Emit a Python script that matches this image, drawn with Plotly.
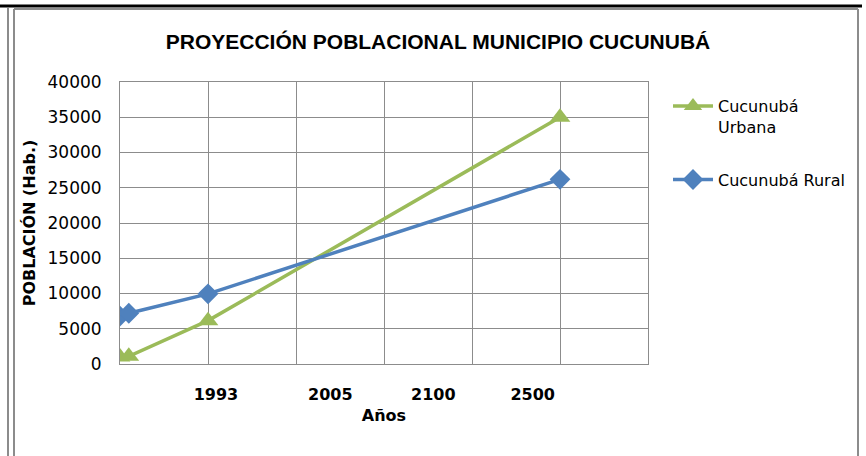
import plotly.graph_objects as go

# data
x_pos = [0, 0.1, 1, 5]
urbana = [1000, 1100, 6150, 35000]
rural = [6800, 7200, 9950, 26200]

# x tick labels (placed where they sit in the original)
tick_pos = [1.09, 2.39, 3.56, 4.69]
tick_txt = ['1993', '2005', '2100', '2500']

GREEN = '#9BBB59'
BLUE = '#4F81BD'
GRID = '#8C8C8C'

W, H = 866, 456
L, R, T, B = 120, 648, 82, 364


def px(x):
    return (x - L) / (R - L)


def py(y):
    return (B - y) / (B - T)


fig = go.Figure()
fig.add_trace(go.Scatter(
    x=x_pos, y=urbana, name='Cucunubá<br>Urbana', mode='lines+markers',
    line=dict(color=GREEN, width=3.5),
    marker=dict(symbol='triangle-up', size=18, color=GREEN),
    legendgroup='u'))
fig.add_trace(go.Scatter(
    x=x_pos, y=rural, name='Cucunubá Rural', mode='lines+markers',
    line=dict(color=BLUE, width=3.5),
    marker=dict(symbol='diamond', size=16, color=BLUE),
    legendgroup='r'))

frame = [
    dict(x0=px(0), x1=px(862), y0=py(6), y1=py(6), color='black', width=3),
    dict(x0=px(8), x1=px(8), y0=py(8), y1=py(456), color='#8C8C8C', width=2),
    dict(x0=px(14), x1=px(14), y0=py(9), y1=py(456), color='#8C8C8C', width=2),
    dict(x0=px(14), x1=px(858), y0=py(9), y1=py(9), color='#8C8C8C', width=2),
    dict(x0=px(858), x1=px(858), y0=py(9), y1=py(456), color='#8C8C8C', width=2),
]
shapes = [dict(type='line', xref='paper', yref='paper', x0=f['x0'], x1=f['x1'],
               y0=f['y0'], y1=f['y1'], line=dict(color=f['color'], width=f['width']))
          for f in frame]

fig.update_layout(
    width=W, height=H,
    margin=dict(l=L, r=W - R, t=T, b=H - B, autoexpand=False),
    paper_bgcolor='white', plot_bgcolor='white',
    font=dict(family='DejaVu Sans', color='black'),
    title=dict(text='<b>PROYECCIÓN POBLACIONAL MUNICIPIO CUCUNUBÁ</b>',
               x=px(438), xref='paper', xanchor='center',
               y=1 - 42 / H, yanchor='middle',
               font=dict(family='Liberation Sans', size=21)),
    xaxis=dict(range=[0, 6], tickvals=tick_pos, ticktext=tick_txt, ticks='',
               showgrid=False, zeroline=False,
               showline=True, mirror=True, linecolor=GRID, linewidth=1,
               tickfont=dict(size=16, family='DejaVu Sans', weight='bold'),
               ticklabelstandoff=16,
               minor=dict(dtick=1, tick0=0, showgrid=True, gridcolor=GRID, gridwidth=1),
               title=dict(text='<b>Años</b>', font=dict(size=16), standoff=6)),
    yaxis=dict(range=[0, 40000], dtick=5000, tickformat='d',
               showgrid=True, gridcolor=GRID, gridwidth=1,
               zeroline=False, showline=True, mirror=True, linecolor=GRID, linewidth=1,
               ticks='', tickfont=dict(size=17), ticklabelstandoff=14,
               title=dict(text='<b>POBLACIÓN (Hab.)</b>', font=dict(size=16), standoff=7)),
    legend=dict(x=px(668), y=py(89), xanchor='left', yanchor='top',
                font=dict(size=16), valign='top', tracegroupgap=29,
                traceorder='grouped', itemwidth=40, bgcolor='rgba(0,0,0,0)'),
    shapes=shapes,
)

fig.write_html('out.html', config={'displayModeBar': False},
               post_script="document.body.style.margin='0';")
